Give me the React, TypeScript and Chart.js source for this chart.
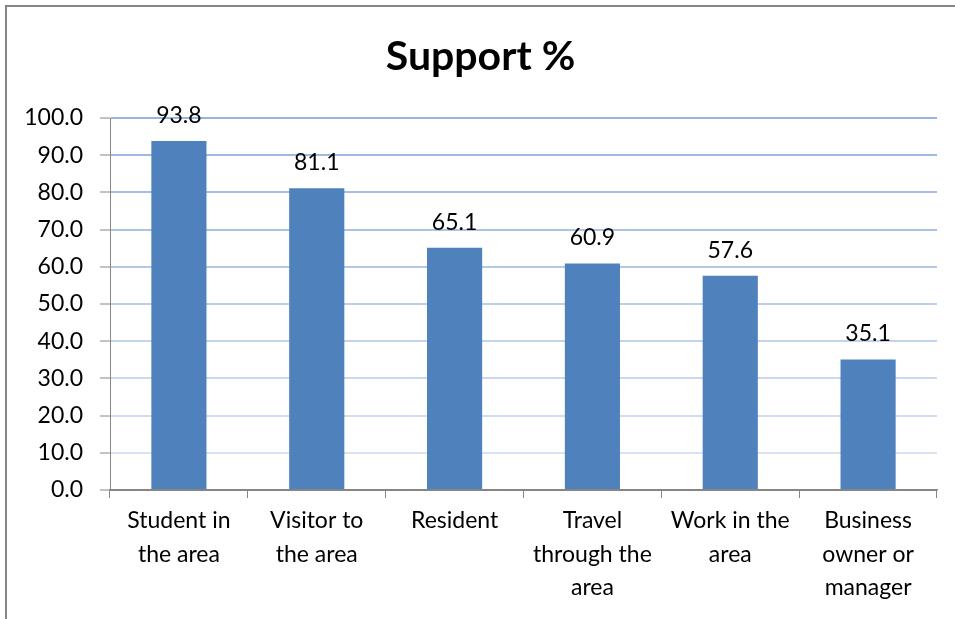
import React, { useEffect, useRef } from "react";
import { Chart, registerables } from "chart.js";

Chart.register(...registerables);

const categories: (string | string[])[] = [
  ["Student in", "the area"],
  ["Visitor to", "the area"],
  "Resident",
  ["Travel", "through the", "area"],
  ["Work in the", "area"],
  ["Business", "owner or", "manager"],
];
const supportValues: number[] = [93.8, 81.1, 65.1, 60.9, 57.6, 35.1];
const titleText = "Support %";
const yMin = 0;
const yMax = 100;
const yStep = 10;

const FONT = "Lato, 'DejaVu Sans', sans-serif";
const AXIS_GRAY = "#868686";

function gridColor(v: number): string {
  if (v <= 0) return AXIS_GRAY;
  const t = v / 100; // 1 at top
  const top = [152, 180, 224];
  const bot = [222, 231, 245];
  const c = top.map((a, i) => Math.round(bot[i] + (a - bot[i]) * t));
  return `rgb(${c[0]},${c[1]},${c[2]})`;
}

const dataLabelPlugin = {
  id: "dataLabels",
  afterDatasetsDraw(chart: any) {
    const ctx = chart.ctx;
    const meta = chart.getDatasetMeta(0);
    const data = chart.data.datasets[0].data as number[];
    ctx.save();
    ctx.font = `23px ${FONT}`;
    ctx.fillStyle = "#000000";
    ctx.textAlign = "center";
    ctx.textBaseline = "alphabetic";
    meta.data.forEach((bar: any, i: number) => {
      ctx.fillText(data[i].toFixed(1), bar.x, bar.y - 18);
    });
    ctx.restore();
  },
};

export default function App() {
  const canvasRef = useRef<HTMLCanvasElement | null>(null);

  useEffect(() => {
    if (!canvasRef.current) return;
    const chart = new Chart(canvasRef.current, {
      type: "bar",
      data: {
        labels: categories,
        datasets: [
          {
            label: titleText,
            data: supportValues,
            backgroundColor: "#4F81BD",
            borderWidth: 0,
            barPercentage: 0.4,
            categoryPercentage: 1,
          },
        ],
      },
      options: {
        responsive: false,
        animation: false,
        layout: { padding: { left: 24, right: 18, top: 0, bottom: 0 } },
        plugins: {
          legend: { display: false },
          tooltip: { enabled: false },
          title: {
            display: true,
            text: titleText,
            color: "#000000",
            font: { family: FONT, size: 41, weight: "bold", lineHeight: 1.2 },
            padding: { top: 32, bottom: 36.8 },
          },
        },
        scales: {
          x: {
            grid: {
              offset: true,
              drawOnChartArea: false,
              drawTicks: true,
              tickLength: 8,
              tickColor: AXIS_GRAY,
              lineWidth: 1,
            },
            border: { display: true, color: AXIS_GRAY, width: 1.5 },
            ticks: {
              color: "#000000",
              font: { family: FONT, size: 23, lineHeight: 1.46 },
              padding: 6,
              maxRotation: 0,
              autoSkip: false,
            },
            afterFit: (scale: any) => {
              scale.height = 129;
            },
          },
          y: {
            min: yMin,
            max: yMax,
            grid: {
              color: (ctx: any) => gridColor(ctx.tick ? ctx.tick.value : 0),
              lineWidth: 2,
              tickLength: 10,
              tickColor: AXIS_GRAY,
              tickWidth: 1,
            },
            border: { display: true, color: AXIS_GRAY, width: 1 },
            ticks: {
              stepSize: yStep,
              color: "#000000",
              padding: 17,
              font: { family: FONT, size: 23 },
              callback: (v: any) => Number(v).toFixed(1),
            },
            afterFit: (scale: any) => {
              scale.width = 86;
            },
          },
        },
      },
      plugins: [dataLabelPlugin],
    });
    return () => chart.destroy();
  }, []);

  return (
    <div
      style={{
        position: "fixed",
        left: 0,
        top: 0,
        width: 955,
        height: 619,
        background: "#ffffff",
        overflow: "hidden",
      }}
    >
      <canvas
        ref={canvasRef}
        width={955}
        height={619}
        style={{ display: "block", width: 955, height: 619 }}
      />
      <div
        style={{
          position: "absolute",
          left: 5,
          top: 5,
          width: 2000,
          height: 2000,
          borderLeft: "2px solid #868686",
          borderTop: "2px solid #868686",
          pointerEvents: "none",
        }}
      />
    </div>
  );
}
